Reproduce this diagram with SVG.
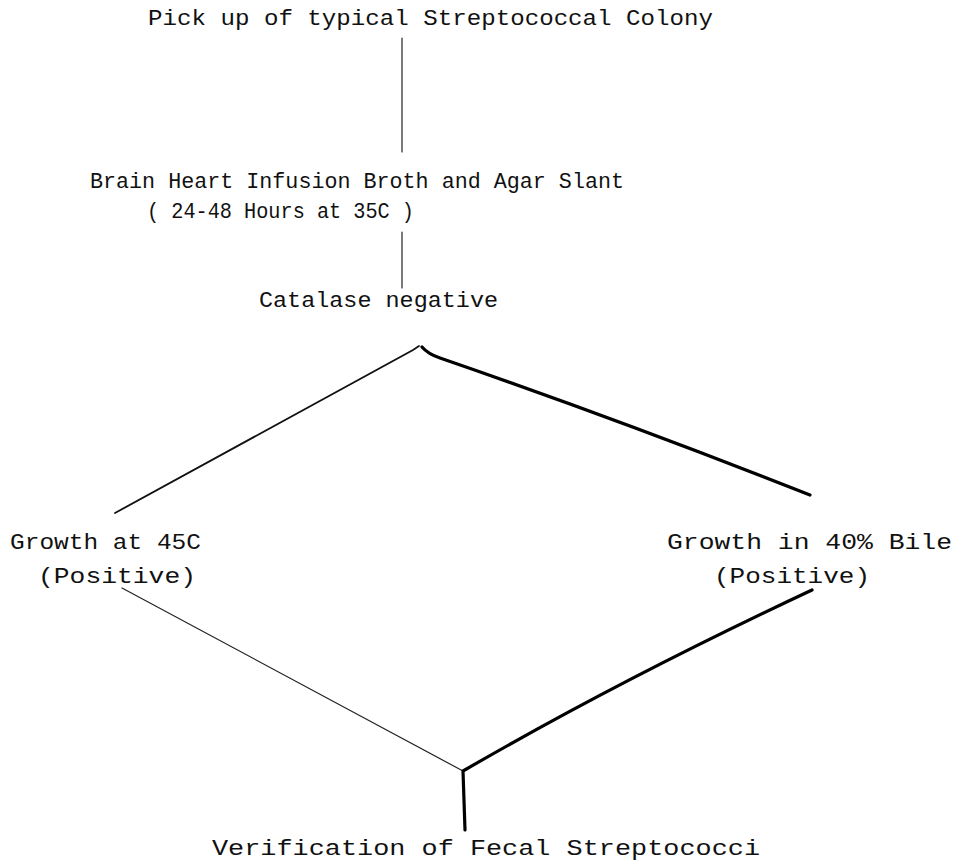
<svg xmlns="http://www.w3.org/2000/svg" width="963" height="865" viewBox="0 0 963 865">
<style>
text{font-family:"Liberation Mono","DejaVu Sans Mono",monospace;font-size:22px;fill:#111;}
.thin{stroke:#222;stroke-width:1.2;fill:none;stroke-linecap:round;}
.mid{stroke:#111;stroke-width:1.8;fill:none;stroke-linecap:round;}
.thick{stroke:#000;stroke-width:3.2;fill:none;stroke-linecap:round;stroke-linejoin:round;}
</style>
<rect width="963" height="865" fill="#fff"/>
<g id="connectors">
<line class="thin" x1="402" y1="38" x2="402" y2="152"/>
<line class="thin" x1="402" y1="232" x2="402" y2="288"/>
<path class="mid" d="M419,346 L413,350 L115,513"/>
<path class="thick" d="M422,347 Q428,354 440,358 Q620,420 810,495"/>
<line class="thin" x1="122" y1="588" x2="463" y2="771"/>
<path class="thick" d="M812,590 Q620,680 463,771 L465,830"/>
</g>
<g id="n1"><text x="148" y="25" textLength="565" lengthAdjust="spacingAndGlyphs">Pick up of typical Streptococcal Colony</text></g>
<g id="n2"><text x="90" y="188" textLength="534" lengthAdjust="spacingAndGlyphs">Brain Heart Infusion Broth and Agar Slant</text>
<text x="147" y="218" textLength="267" lengthAdjust="spacingAndGlyphs">( 24-48 Hours at 35C )</text></g>
<g id="n3"><text x="259" y="307" textLength="239" lengthAdjust="spacingAndGlyphs">Catalase negative</text></g>
<g id="n4"><text x="10" y="549" textLength="191" lengthAdjust="spacingAndGlyphs">Growth at 45C</text>
<text x="38" y="583" textLength="158" lengthAdjust="spacingAndGlyphs">(Positive)</text></g>
<g id="n5"><text x="667" y="549" textLength="285" lengthAdjust="spacingAndGlyphs">Growth in 40% Bile</text>
<text x="714" y="583" textLength="156" lengthAdjust="spacingAndGlyphs">(Positive)</text></g>
<g id="n6"><text x="212" y="855" textLength="548" lengthAdjust="spacingAndGlyphs">Verification of Fecal Streptococci</text></g>
</svg>
